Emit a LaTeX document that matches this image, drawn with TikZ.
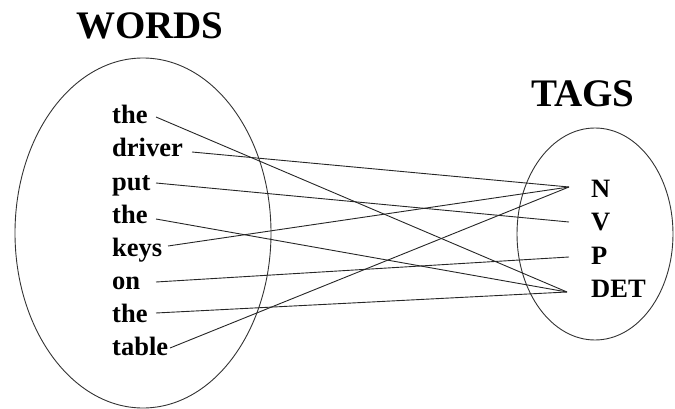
\documentclass[tikz,border=0pt]{standalone}
\usepackage{fontspec}
\setmainfont{Liberation Serif}
\usetikzlibrary{shapes.geometric}
\begin{document}
\begin{tikzpicture}[x=1pt,y=-1pt,
  word/.style={anchor=base west,inner sep=0pt,font=\fontsize{26.5}{30}\selectfont\bfseries},
  heading/.style={anchor=base,inner sep=0pt,font=\fontsize{39}{44}\selectfont\bfseries},
  setshape/.style={draw=black!80,line width=0.9pt,ellipse,inner sep=0pt},
  link/.style={line width=0.9pt,black!85}]
\useasboundingbox (0,0) rectangle (675,409);

% the two sets
\node[setshape,minimum width=256pt,minimum height=350pt] (wordset) at (143,233) {};
\node[setshape,minimum width=156pt,minimum height=212pt] (tagset) at (595,234) {};

% headings
\node[heading] (hw) at (150,39) {WORDS};
\node[heading] (ht) at (583,107) {TAGS};

% words of the sentence
\node[word] (w1) at (112,124) {the};
\node[word] (w2) at (112,157) {driver};
\node[word] (w3) at (112,190) {put};
\node[word] (w4) at (112,223) {the};
\node[word] (w5) at (112,256) {keys};
\node[word] (w6) at (112,289) {on};
\node[word] (w7) at (112,322) {the};
\node[word] (w8) at (112,355) {table};

% tags
\node[word] (tN) at (591,197) {N};
\node[word] (tV) at (591,230) {V};
\node[word] (tP) at (591,264) {P};
\node[word] (tD) at (591,297) {DET};

% line ends beside the words
\coordinate (p1) at (156,117);
\coordinate (p2) at (192,152);
\coordinate (p3) at (156,183);
\coordinate (p4) at (156,219);
\coordinate (p5) at (168,246);
\coordinate (p6) at (156,282);
\coordinate (p7) at (156,313);
\coordinate (p8) at (170,348);

% line ends beside the tags
\coordinate (qN) at (569,187);
\coordinate (qV) at (569,222);
\coordinate (qP) at (569,257);
\coordinate (qD) at (567,292);

% word-to-tag links
\draw[link] (p1) -- (qD);
\draw[link] (p2) -- (qN);
\draw[link] (p3) -- (qV);
\draw[link] (p4) -- (qD);
\draw[link] (p5) -- (qN);
\draw[link] (p6) -- (qP);
\draw[link] (p7) -- (qD);
\draw[link] (p8) -- (qN);
\end{tikzpicture}
\end{document}
